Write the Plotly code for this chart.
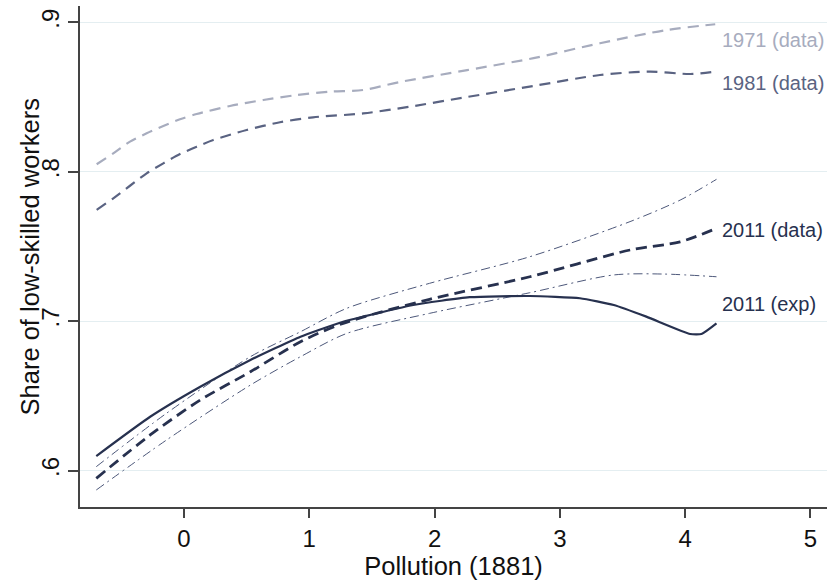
import plotly.graph_objects as go

# 1971 (data)
x1971 = [-0.697, -0.564, -0.431, -0.298, -0.165, -0.032, 0.101, 0.367, 0.633, 0.899, 1.165, 1.43, 1.72, 2.26, 2.79, 3.32, 3.85, 4.24]
y1971 = [0.8050, 0.8123, 0.8201, 0.8257, 0.8306, 0.8351, 0.8386, 0.8440, 0.8480, 0.8513, 0.8536, 0.8547, 0.8600, 0.8680, 0.8760, 0.8860, 0.8948, 0.8987]

# 1981 (data)
x1981 = [-0.697, -0.564, -0.431, -0.298, -0.165, -0.032, 0.101, 0.234, 0.50, 0.766, 1.03, 1.43, 1.80, 2.26, 2.79, 3.32, 3.72, 4.04, 4.24]
y1981 = [0.7745, 0.7822, 0.7906, 0.7989, 0.8056, 0.8118, 0.8167, 0.8212, 0.8279, 0.8331, 0.8364, 0.8390, 0.8435, 0.8500, 0.8574, 0.8647, 0.8670, 0.8654, 0.8670]

# 2011 (exp)
xexp = [-0.70, -0.27, 0.13, 0.53, 0.93, 1.27, 1.43, 1.83, 2.28, 2.76, 3.16, 3.43, 3.69, 4.04, 4.13, 4.25]
yexp = [0.6097, 0.6360, 0.6561, 0.6740, 0.6896, 0.6996, 0.7030, 0.7108, 0.7160, 0.7168, 0.7153, 0.7108, 0.7030, 0.6914, 0.6914, 0.6985]

# 2011 (data)
xdat = [-0.70, -0.27, 0.13, 0.53, 0.93, 1.27, 1.96, 2.76, 3.56, 3.96, 4.25]
ydat = [0.5948, 0.6238, 0.6472, 0.6661, 0.6862, 0.6985, 0.7146, 0.7297, 0.7476, 0.7531, 0.7621]

# 2011 (data) confidence band
xci_hi = [-0.70, -0.14, 0.53, 0.93, 1.30, 1.96, 2.76, 3.56, 3.96, 4.25]
yci_hi = [0.6026, 0.6383, 0.6762, 0.6929, 0.7086, 0.7253, 0.7431, 0.7666, 0.7810, 0.7949]
xci_lo = [-0.70, -0.14, 0.53, 0.93, 1.30, 1.96, 2.76, 3.43, 3.83, 4.25]
yci_lo = [0.5870, 0.6204, 0.6572, 0.6762, 0.6918, 0.7052, 0.7190, 0.7309, 0.7315, 0.7297]

label_text = ["1971 (data)", "1981 (data)", "2011 (data)", "2011 (exp)"]
label_y = [0.8882, 0.8595, 0.7613, 0.7115]

xticks = [0, 1, 2, 3, 4, 5]
yticks = [0.6, 0.7, 0.8, 0.9]
ytick_text = [".6", ".7", ".8", ".9"]

c1971 = "#a7acbe"
c1981 = "#5a6382"
c2011 = "#27314f"
cci = "#4d587a"

fig = go.Figure()
sm = 0.8
fig.add_trace(go.Scatter(x=xci_hi, y=yci_hi, mode="lines", line=dict(color=cci, width=1, dash="9px,4px,2px,4px", shape="spline", smoothing=sm), showlegend=False))
fig.add_trace(go.Scatter(x=xci_lo, y=yci_lo, mode="lines", line=dict(color=cci, width=1, dash="9px,4px,2px,4px", shape="spline", smoothing=sm), showlegend=False))
fig.add_trace(go.Scatter(x=x1971, y=y1971, mode="lines", line=dict(color=c1971, width=2.2, dash="11px,7px", shape="spline", smoothing=sm), showlegend=False))
fig.add_trace(go.Scatter(x=x1981, y=y1981, mode="lines", line=dict(color=c1981, width=2.2, dash="11px,7px", shape="spline", smoothing=sm), showlegend=False))
fig.add_trace(go.Scatter(x=xdat, y=ydat, mode="lines", line=dict(color=c2011, width=2.8, dash="11px,6px", shape="spline", smoothing=sm), showlegend=False))
fig.add_trace(go.Scatter(x=xexp, y=yexp, mode="lines", line=dict(color=c2011, width=2.2, shape="spline", smoothing=0.5), showlegend=False))

label_colors = [c1971, c1981, c2011, c2011]
font_fam = "Arial, Liberation Sans, sans-serif"
for t, yv, col in zip(label_text, label_y, label_colors):
    fig.add_annotation(x=4.28, y=yv, text=t, showarrow=False, xanchor="left", yanchor="middle",
                       font=dict(size=20, color=col, family=font_fam))

fig.add_annotation(xref="paper", yref="paper", x=-0.067, y=0.5, text="Share of low-skilled workers",
                   textangle=-90, showarrow=False, xanchor="center", yanchor="middle",
                   font=dict(size=25.5, color="#111111", family=font_fam))

fig.update_layout(
    width=827, height=581,
    margin=dict(l=80, r=0, t=6, b=74),
    plot_bgcolor="white", paper_bgcolor="white",
    font=dict(family=font_fam, color="#111111"),
    xaxis=dict(range=[-0.83, 5.132], tickvals=xticks, ticks="outside", ticklen=9, tickwidth=1.5,
               tickcolor="#444444", showline=True, linecolor="#444444", linewidth=1.8,
               showgrid=False, zeroline=False, tickfont=dict(size=24),
               title=dict(text="Pollution (1881)", font=dict(size=25.5), standoff=0)),
    yaxis=dict(range=[0.5756, 0.9109], tickvals=yticks, ticktext=ytick_text, tickangle=-90,
               ticks="outside", ticklen=10, tickwidth=1.5, tickcolor="#444444",
               showline=True, linecolor="#444444", linewidth=1.8,
               showgrid=True, gridcolor="#e4eef1", gridwidth=1.3, zeroline=False,
               tickfont=dict(size=24)),
)

fig.write_html("out.html")
